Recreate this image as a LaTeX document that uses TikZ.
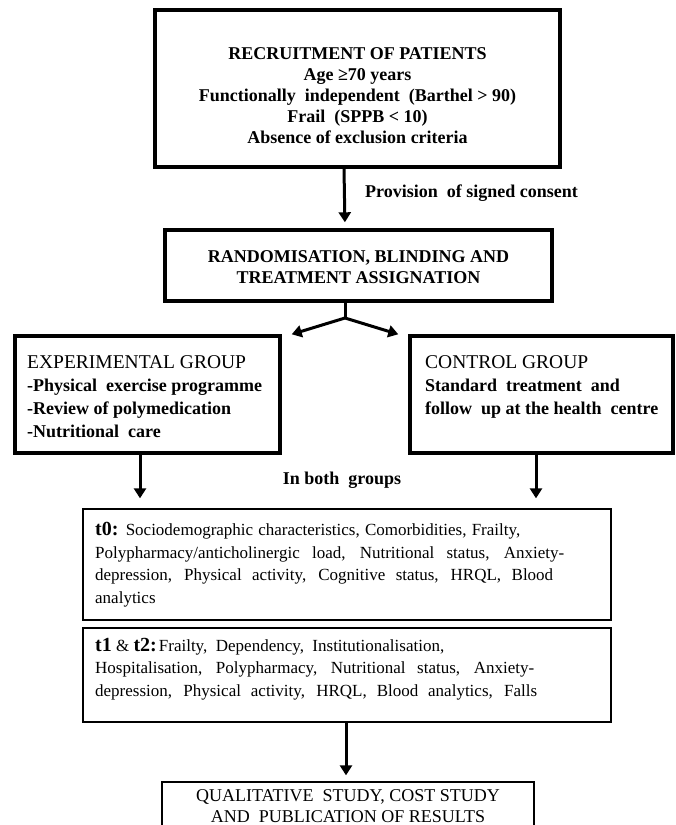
\documentclass[tikz,border=0pt]{standalone}
\usepackage{fontspec}
\setmainfont{Liberation Serif}
\usetikzlibrary{arrows.meta}

\tikzset{
  thickbox/.style={draw, line width=3.4pt, inner sep=0pt},
  thinbox/.style={draw, line width=1.3pt, inner sep=0pt},
  boldtxt/.style={font=\fontsize{18}{21}\selectfont\bfseries, align=center, inner sep=0pt},
  listtxt/.style={font=\fontsize{18}{23}\selectfont, align=left, inner sep=0pt},
  bodytxt/.style={font=\fontsize{17}{22.5}\selectfont, align=left, inner sep=0pt},
  flow/.style={-{Triangle[width=12pt,length=10pt]}, line width=3pt}
}
\newcommand{\tlabel}[1]{{\fontsize{20}{22}\selectfont\bfseries #1}}
\newcommand{\jline}[2]{\makebox[#1pt][s]{#2}}

\begin{document}
\begin{tikzpicture}[x=1pt,y=-1pt]
\useasboundingbox (0,0) rectangle (676,825);
\clip (0,0) rectangle (676,825);

% boxes
\node[thickbox, minimum width=405, minimum height=157] (rec) at (357.5,88.5) {};
\node[thickbox, minimum width=387, minimum height=71] (rand) at (358.5,265.5) {};
\node[thickbox, minimum width=265, minimum height=117] (exp) at (147.5,394.5) {};
\node[thickbox, minimum width=263, minimum height=117] (ctrl) at (541.5,394.5) {};
\node[thinbox, minimum width=528, minimum height=111] (tzero) at (347,564.5) {};
\node[thinbox, minimum width=528, minimum height=94] (tone) at (347,675) {};
\node[thinbox, minimum width=372, minimum height=62] (qual) at (348,813) {};

% texts
\node[boldtxt] (rectxt) at (357.5,96) {RECRUITMENT OF PATIENTS\\ Age ≥70 years\\
  Functionally\ \ independent\ \ (Barthel > 90)\\ Frail\ \ (SPPB < 10)\\ Absence of exclusion criteria};
\node[boldtxt, anchor=west] (consent) at (365,193) {Provision\ \ of signed consent};
\node[boldtxt] (randtxt) at (358.5,267.5) {RANDOMISATION, BLINDING AND\\ TREATMENT ASSIGNATION};
\node[listtxt, anchor=north west] (exptxt) at (27,355) {{\fontsize{19.5}{23}\selectfont EXPERIMENTAL GROUP}\\
  \textbf{-Physical\ \ exercise programme}\\ \textbf{-Review of polymedication}\\ \textbf{-Nutritional\ \ care}};
\node[listtxt, anchor=north west] (ctrltxt) at (425,355) {{\fontsize{19.5}{23}\selectfont CONTROL GROUP}\\
  \textbf{Standard\ \ treatment\ \ and}\\ \textbf{follow\ \ up at the health\ \ centre}};
\node[boldtxt] (both) at (342,480) {In both\ \ groups};
\node[bodytxt, anchor=north west] (tzerotxt) at (95,522) {\jline{425}{\tlabel{t0:} Sociodemographic characteristics, Comorbidities, Frailty,}\\
  \jline{469}{Polypharmacy/anticholinergic load, Nutritional status, Anxiety-}\\
  \jline{458}{depression, Physical activity, Cognitive status, HRQL, Blood}\\
  analytics};
\node[bodytxt, anchor=north west] (tonetxt) at (95,638) {\tlabel{t1} \& \tlabel{t2:}\kern2pt Frailty,\ \ Dependency,\ \ Institutionalisation,\\
  \jline{439}{Hospitalisation, Polypharmacy, Nutritional status, Anxiety-}\\
  \jline{442}{depression, Physical activity, HRQL, Blood analytics, Falls}};
\node[font=\fontsize{18}{21}\selectfont, align=center, inner sep=0pt] (qualtxt) at (348,806) {QUALITATIVE\ \ STUDY, COST STUDY\\ AND\ \ PUBLICATION OF RESULTS};

% arrows
\coordinate (fork) at (345,318);
\draw[flow, shorten >=6pt] ([xshift=-13.5pt]rec.south) -- ([xshift=-13.5pt]rand.north);
\draw[line width=3pt] ([xshift=-13.5pt]rand.south) -- (fork);
\draw[flow] (fork) -- ([xshift=10pt]exp.north east);
\draw[flow] (fork) -- ([xshift=-10pt]ctrl.north west);
\draw[flow, shorten >=10pt] ([xshift=-7.5pt]exp.south) -- ([xshift=-7.5pt]exp.south |- tzero.north);
\draw[flow, shorten >=10pt] ([xshift=-5.5pt]ctrl.south) -- ([xshift=-5.5pt]ctrl.south |- tzero.north);
\draw[flow, shorten >=6pt] ([xshift=-1pt]tone.south) -- ([xshift=-1pt]tone.south |- qual.north);
\end{tikzpicture}
\end{document}
